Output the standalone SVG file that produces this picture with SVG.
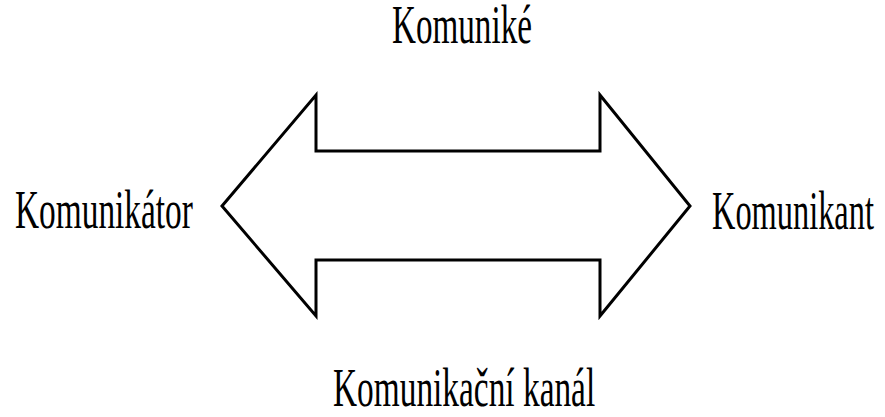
<svg xmlns="http://www.w3.org/2000/svg" width="885" height="417" viewBox="0 0 885 417">
<style>
.lbl{font-family:"Liberation Serif","Times New Roman",serif;font-size:54px;fill:#000}
.arrow{fill:#fff;stroke:#000;stroke-width:3;stroke-linejoin:miter}
</style>
<rect width="885" height="417" fill="#fff"/>
<g id="connectors">
<path class="arrow" d="M222,206 L316,95 L316,151 L600,151 L600,95 L690,206 L600,316 L600,260 L316,260 L316,316 Z"/>
</g>
<g id="node-komunike"><text class="lbl" transform="translate(392,43) scale(0.614,1)">Komuniké</text></g>
<g id="node-komunikator"><text class="lbl" transform="translate(15,228) scale(0.618,1)">Komunikátor</text></g>
<g id="node-komunikant"><text class="lbl" transform="translate(712,229) scale(0.6,1)">Komunikant</text></g>
<g id="node-kanal"><text class="lbl" transform="translate(333,406) scale(0.618,1)">Komunikační kanál</text></g>
</svg>
